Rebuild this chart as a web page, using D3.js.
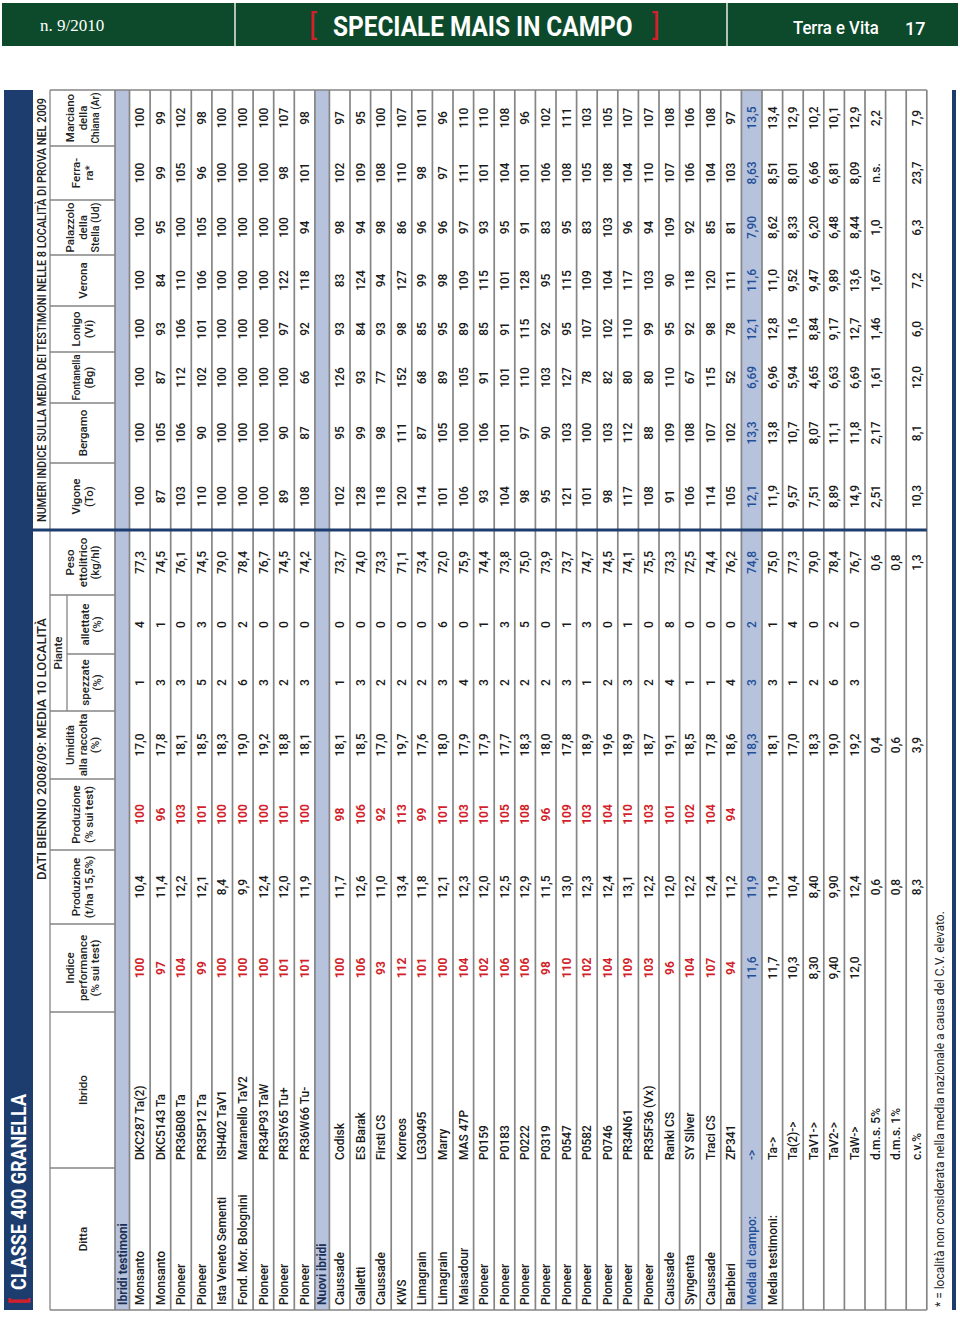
<!DOCTYPE html>
<html>
<head>
<meta charset="utf-8">
<script src="https://cdn.jsdelivr.net/npm/d3@7"></script>
<style>
body { margin: 0; background: #fff; }
text { font-family: Roboto, "Noto Sans", sans-serif; }
</style>
</head>
<body>
<div id="chart-area"></div>
<script>
// ---- data ----
var columns = ["ditta","ibrido","indice","prodT","prodP","umid","spez","allet","peso",
               "vigone","bergamo","fontanella","lonigo","verona","palazzolo","ferrara","marciano"];

var headers = {
  ditta: ["Ditta"], ibrido: ["Ibrido"],
  indice: ["Indice", "performance", "(% sui test)"],
  prodT: ["Produzione", "(t/ha 15,5%)"],
  prodP: ["Produzione", "(% sui test)"],
  umid: ["Umidità", "alla raccolta", "(%)"],
  spez: ["spezzate", "(%)"], allet: ["allettate", "(%)"],
  peso: ["Peso", "ettolitrico", "(kg/hl)"],
  vigone: ["Vigone", "(To)"], bergamo: ["Bergamo"], fontanella: ["Fontanella", "(Bg)"],
  lonigo: ["Lonigo", "(Vi)"], verona: ["Verona"], palazzolo: ["Palazzolo", "della", "Stella (Ud)"],
  ferrara: ["Ferra-", "ra*"], marciano: ["Marciano", "della", "Chiana (Ar)"]
};

var title = "CLASSE 400 GRANELLA";
var superLeft = "DATI BIENNIO 2008/09: MEDIA 10 LOCALITÀ";
var superRight = "NUMERI INDICE SULLA MEDIA DEI TESTIMONI NELLE 8 LOCALITÀ DI PROVA NEL 2009";
var footnote = "* = località non considerata nella media nazionale a causa del C.V. elevato.";

var testimoni = [
  ["Monsanto","DKC287 Ta(2)","100","10,4","100","17,0","1","4","77,3","100","100","100","100","100","100","100","100"],
  ["Monsanto","DKC5143 Ta","97","11,4","96","17,8","3","1","74,5","87","105","87","93","84","95","99","99"],
  ["Pioneer","PR36B08 Ta","104","12,2","103","18,1","3","0","76,1","103","106","112","106","110","100","105","102"],
  ["Pioneer","PR35P12 Ta","99","12,1","101","18,5","5","3","74,5","110","90","102","101","106","105","96","98"],
  ["Ista Veneto Sementi","ISH402 TaV1","100","8,4","100","18,3","2","0","79,0","100","100","100","100","100","100","100","100"],
  ["Fond. Mor. Bolognini","Maranello TaV2","100","9,9","100","19,0","6","2","78,4","100","100","100","100","100","100","100","100"],
  ["Pioneer","PR34P93 TaW","100","12,4","100","19,2","3","0","76,7","100","100","100","100","100","100","100","100"],
  ["Pioneer","PR35Y65 Tu+","101","12,0","101","18,8","2","0","74,5","89","90","100","97","122","100","98","107"],
  ["Pioneer","PR36W66 Tu-","101","11,9","100","18,1","3","0","74,2","108","87","66","92","118","94","101","98"]
];

var nuovi = [
  ["Caussade","Codisk","100","11,7","98","18,1","1","0","73,7","102","95","126","93","83","98","102","97"],
  ["Galletti","ES Barak","106","12,6","106","18,5","3","0","74,0","128","99","93","84","124","94","109","95"],
  ["Caussade","Firsti CS","93","11,0","92","17,0","2","0","73,3","118","98","77","93","94","98","108","100"],
  ["KWS","Korreos","112","13,4","113","19,7","2","0","71,1","120","111","152","98","127","86","110","107"],
  ["Limagrain","LG30495","101","11,8","99","17,6","2","0","73,4","114","87","68","85","99","96","98","101"],
  ["Limagrain","Marry","100","12,1","101","18,0","3","6","72,0","101","105","89","95","98","96","97","96"],
  ["Maisadour","MAS 47P","104","12,3","103","17,9","4","0","75,9","106","100","105","89","109","97","111","110"],
  ["Pioneer","P0159","102","12,0","101","17,9","3","1","74,4","93","106","91","85","115","93","101","110"],
  ["Pioneer","P0183","106","12,5","105","17,7","2","3","73,8","104","101","101","91","101","95","104","108"],
  ["Pioneer","P0222","106","12,9","108","18,3","2","5","75,0","98","97","110","115","128","91","101","96"],
  ["Pioneer","P0319","98","11,5","96","18,0","2","0","73,9","95","90","103","92","95","83","106","102"],
  ["Pioneer","P0547","110","13,0","109","17,8","3","1","73,7","121","103","127","95","115","95","108","111"],
  ["Pioneer","P0582","102","12,3","103","18,9","1","3","74,7","101","100","78","107","109","83","105","103"],
  ["Pioneer","P0746","104","12,4","104","19,6","2","0","74,5","98","103","82","102","104","103","108","105"],
  ["Pioneer","PR34N61","109","13,1","110","18,9","3","1","74,1","117","112","80","110","117","96","104","107"],
  ["Pioneer","PR35F36 (Vx)","103","12,2","103","18,7","2","0","75,5","108","88","80","99","103","94","110","107"],
  ["Caussade","Ranki CS","96","12,0","101","19,1","4","8","73,3","91","109","110","95","90","109","107","108"],
  ["Syngenta","SY Silver","104","12,2","102","18,5","1","0","72,5","106","108","67","92","118","92","106","106"],
  ["Caussade","Traci CS","107","12,4","104","17,8","1","0","74,4","114","107","115","98","120","85","104","108"],
  ["Barbieri","ZP341","94","11,2","94","18,6","4","0","76,2","105","102","52","78","111","81","103","97"]
];

var mediaCampo = ["Media di campo:","->","11,6","11,9","","18,3","3","2","74,8","12,1","13,3","6,69","12,1","11,6","7,90","8,63","13,5"];

var statistiche = [
  ["Media testimoni:","Ta->","11,7","11,9","","18,1","3","1","75,0","11,9","13,8","6,96","12,8","11,0","8,62","8,51","13,4"],
  ["","Ta(2)->","10,3","10,4","","17,0","1","4","77,3","9,57","10,7","5,94","11,6","9,52","8,33","8,01","12,9"],
  ["","TaV1->","8,30","8,40","","18,3","2","0","79,0","7,51","8,07","4,65","8,84","9,47","6,20","6,66","10,2"],
  ["","TaV2->","9,40","9,90","","19,0","6","2","78,4","8,89","11,1","6,63","9,17","9,89","6,48","6,81","10,1"],
  ["","TaW->","12,0","12,4","","19,2","3","0","76,7","14,9","11,8","6,69","12,7","13,6","8,44","8,09","12,9"],
  ["","d.m.s. 5%","","0,6","","0,4","","","0,6","2,51","2,17","1,61","1,46","1,67","1,0","n.s.","2,2"],
  ["","d.m.s. 1%","","0,8","","0,6","","","0,8","","","","","","","",""],
  ["","c.v.%","","8,3","","3,9","","","1,3","10,3","8,1","12,0","6,0","7,2","6,3","23,7","7,9"]
];

// ---- layout ----
var W = 960, H = 1317;
var navy = "#1d3d6e", pale = "#b7c3dc", red = "#d21f2b", blueTxt = "#1f4f98", grid = "#858585";

var svg = d3.select("#chart-area").append("svg")
  .attr("width", W).attr("height", H);

// page header bar
var bar = svg.append("g");
bar.append("rect").attr("x", 2).attr("y", 3).attr("width", 956).attr("height", 43).attr("fill", "#0c4a2b");
[235, 727].forEach(function(x) {
  bar.append("line").attr("x1", x).attr("x2", x).attr("y1", 3).attr("y2", 46)
    .attr("stroke", "#e8ece8").attr("stroke-width", 1.5);
});
bar.append("text").attr("x", 40).attr("y", 31).attr("fill", "#fff")
  .style("font-family", "'Liberation Serif', 'DejaVu Serif', serif").attr("font-size", "17px").text("n. 9/2010");
bar.append("text").attr("x", 309).attr("y", 35).attr("fill", red).attr("font-size", "30px").text("[");
bar.append("text").attr("x", 652).attr("y", 35).attr("fill", red).attr("font-size", "30px").text("]");
bar.append("text").attr("transform", "translate(333,36) scale(0.87,1)")
  .attr("fill", "#fff").attr("font-size", "28px").attr("font-weight", 700)
  .text("SPECIALE MAIS IN CAMPO");
bar.append("text").attr("transform", "translate(793,34) scale(0.88,1)")
  .attr("fill", "#fff").attr("font-size", "19px").attr("font-weight", 500).text("Terra e Vita");
bar.append("text").attr("x", 905).attr("y", 35).attr("fill", "#fff").attr("font-size", "18px")
  .attr("font-weight", 500).text("17");

// rotated table: table x runs bottom->top of page, table y runs left->right
var x0 = 4, y0 = 1310, tableW = 1220;
var g = svg.append("g").attr("transform", "translate(" + x0 + "," + y0 + ") rotate(-90)");

var colEdges = [0, 142, 298, 386, 460, 531, 599, 656, 715, 780, 847, 907, 958, 1004, 1055, 1110, 1164, 1220];
var colStart = d3.scaleOrdinal().domain(columns).range(colEdges.slice(0, -1));
var colEnd = d3.scaleOrdinal().domain(columns).range(colEdges.slice(1));
var colMid = function(c) { return (colStart(c) + colEnd(c)) / 2; };

// rows
var bandH = 29, superH = 17, headH = 65, sectH = 14.5, rowH = 20.6;
var rows = [];
rows.push({type: "section", label: "Ibridi testimoni"});
testimoni.forEach(function(r) { rows.push({type: "hybrid", vals: r}); });
rows.push({type: "section", label: "Nuovi ibridi"});
nuovi.forEach(function(r) { rows.push({type: "hybrid", vals: r}); });
rows.push({type: "media", vals: mediaCampo});
statistiche.forEach(function(r) { rows.push({type: "stat", vals: r}); });

var offsets = [], acc = bandH + superH + headH;
rows.forEach(function(r, i) {
  offsets.push(acc);
  acc += (r.type === "section") ? sectH : rowH;
});
var tableBottom = acc;
var rowY = d3.scaleOrdinal().domain(d3.range(rows.length)).range(offsets);
var rowHeight = function(i) { return rows[i].type === "section" ? sectH : rowH; };

// title band
g.append("rect").attr("x", 0).attr("y", 0).attr("width", tableW).attr("height", bandH).attr("fill", navy);
g.append("text").attr("x", 6).attr("y", 22).attr("fill", red).attr("font-size", "22px").attr("font-weight", 700).text("[");
g.append("text").attr("x", 20).attr("y", 22).attr("fill", "#fff").attr("font-size", "21px")
  .attr("font-weight", 700).attr("textLength", 196).attr("lengthAdjust", "spacingAndGlyphs").text(title);

// super headers
g.append("text").attr("x", (colStart("indice") + colEnd("peso")) / 2 + 22).attr("y", bandH + 13)
  .attr("text-anchor", "middle").attr("font-size", "12px").attr("font-weight", 500)
  .attr("textLength", 262).attr("lengthAdjust", "spacingAndGlyphs").attr("fill", "#222").text(superLeft);
g.append("text").attr("x", (colStart("vigone") + tableW) / 2).attr("y", bandH + 13)
  .attr("text-anchor", "middle").attr("font-size", "12px").attr("font-weight", 500)
  .attr("textLength", 424).attr("lengthAdjust", "spacingAndGlyphs").attr("fill", "#222").text(superRight);

// row backgrounds
g.selectAll("rect.rowbg").data(rows.map(function(r, i) { return i; })
    .filter(function(i) { return rows[i].type === "section" || rows[i].type === "media"; }))
  .enter().append("rect").attr("class", "rowbg")
  .attr("x", 0).attr("width", tableW)
  .attr("y", function(i) { return rowY(i); })
  .attr("height", function(i) { return rowHeight(i); })
  .attr("fill", pale);

// header cells (condense lines that would not fit their column)
var hTop = bandH + superH, hBot = hTop + headH;
var hg = g.append("g").attr("font-size", "11.5px").attr("font-weight", 500).attr("fill", "#222");
columns.forEach(function(c) {
  var lines = headers[c];
  var lh = 12.5;
  var top = (c === "spez" || c === "allet") ? hTop + 17 : hTop;
  var cy = (top + hBot) / 2 - (lines.length - 1) * lh / 2 + 4;
  var room = colEnd(c) - colStart(c) - 5;
  lines.forEach(function(l, k) {
    var t = hg.append("text").attr("x", colMid(c)).attr("y", cy + k * lh)
      .attr("text-anchor", "middle").text(l);
    var len = t.node().getComputedTextLength();
    if (len > room) t.attr("textLength", room).attr("lengthAdjust", "spacingAndGlyphs");
  });
});
hg.append("text").attr("x", (colStart("spez") + colEnd("allet")) / 2).attr("y", hTop + 12)
  .attr("text-anchor", "middle").text("Piante");

// header grid
var lg = g.append("g").attr("stroke", grid).attr("stroke-width", 1.3).attr("fill", "none");
lg.append("line").attr("x1", 0).attr("x2", tableW).attr("y1", hTop).attr("y2", hTop);
lg.append("line").attr("x1", colStart("spez")).attr("x2", colEnd("allet")).attr("y1", hTop + 17).attr("y2", hTop + 17);
colEdges.forEach(function(e, k) {
  if (k === 0 || k === colEdges.length - 1) return;
  var top = (columns[k] === "allet") ? hTop + 17 : hTop;
  lg.append("line").attr("x1", e).attr("x2", e).attr("y1", top).attr("y2", hBot);
});

// row lines
var lineYs = offsets.concat([tableBottom]);
g.selectAll("line.rowline").data(lineYs).enter().append("line").attr("class", "rowline")
  .attr("x1", 0).attr("x2", tableW)
  .attr("y1", function(d) { return d; }).attr("y2", function(d) { return d; })
  .attr("stroke", grid).attr("stroke-width", 1.7);
// outer edges
[0, tableW].forEach(function(e) {
  g.append("line").attr("x1", e).attr("x2", e).attr("y1", hTop).attr("y2", tableBottom)
    .attr("stroke", grid).attr("stroke-width", 1.7);
});

// thick separator before the location columns
g.append("line").attr("x1", colStart("vigone")).attr("x2", colStart("vigone"))
  .attr("y1", bandH).attr("y2", tableBottom).attr("stroke", navy).attr("stroke-width", 3);

// section labels
g.selectAll("text.section").data(rows.map(function(r, i) { return i; }).filter(function(i) { return rows[i].type === "section"; }))
  .enter().append("text").attr("class", "section")
  .attr("x", 5).attr("y", function(i) { return rowY(i) + 11.5; })
  .attr("font-size", "12px").attr("font-weight", 700).attr("fill", "#1b2f55")
  .text(function(i) { return rows[i].label; });

// cells
var cells = [];
rows.forEach(function(r, i) {
  if (!r.vals) return;
  r.vals.forEach(function(v, k) {
    if (v === "") return;
    cells.push({row: i, col: columns[k], v: v, type: r.type});
  });
});
g.selectAll("text.cell").data(cells).enter().append("text").attr("class", "cell")
  .attr("x", function(d) {
    if (d.col === "ditta") return 5;
    if (d.col === "ibrido") return colStart("ibrido") + 8;
    return colMid(d.col);
  })
  .attr("y", function(d) { return rowY(d.row) + 14.5; })
  .attr("text-anchor", function(d) { return (d.col === "ditta" || d.col === "ibrido") ? "start" : "middle"; })
  .attr("font-size", "12px").attr("font-weight", function(d) {
    return (d.type === "hybrid" && (d.col === "indice" || d.col === "prodP")) ? 700 : 500; })
  .attr("fill", function(d) {
    if (d.type === "media") return blueTxt;
    if (d.type === "hybrid" && (d.col === "indice" || d.col === "prodP")) return red;
    return "#1a1a1a";
  })
  .text(function(d) { return d.v; });

// footnote and bottom rule
g.append("text").attr("x", 3).attr("y", tableBottom + 17).attr("font-size", "12px")
  .attr("fill", "#222").text(footnote);
g.append("rect").attr("x", 0).attr("y", 948).attr("width", tableW).attr("height", 4).attr("fill", navy);
</script>
</body>
</html>
